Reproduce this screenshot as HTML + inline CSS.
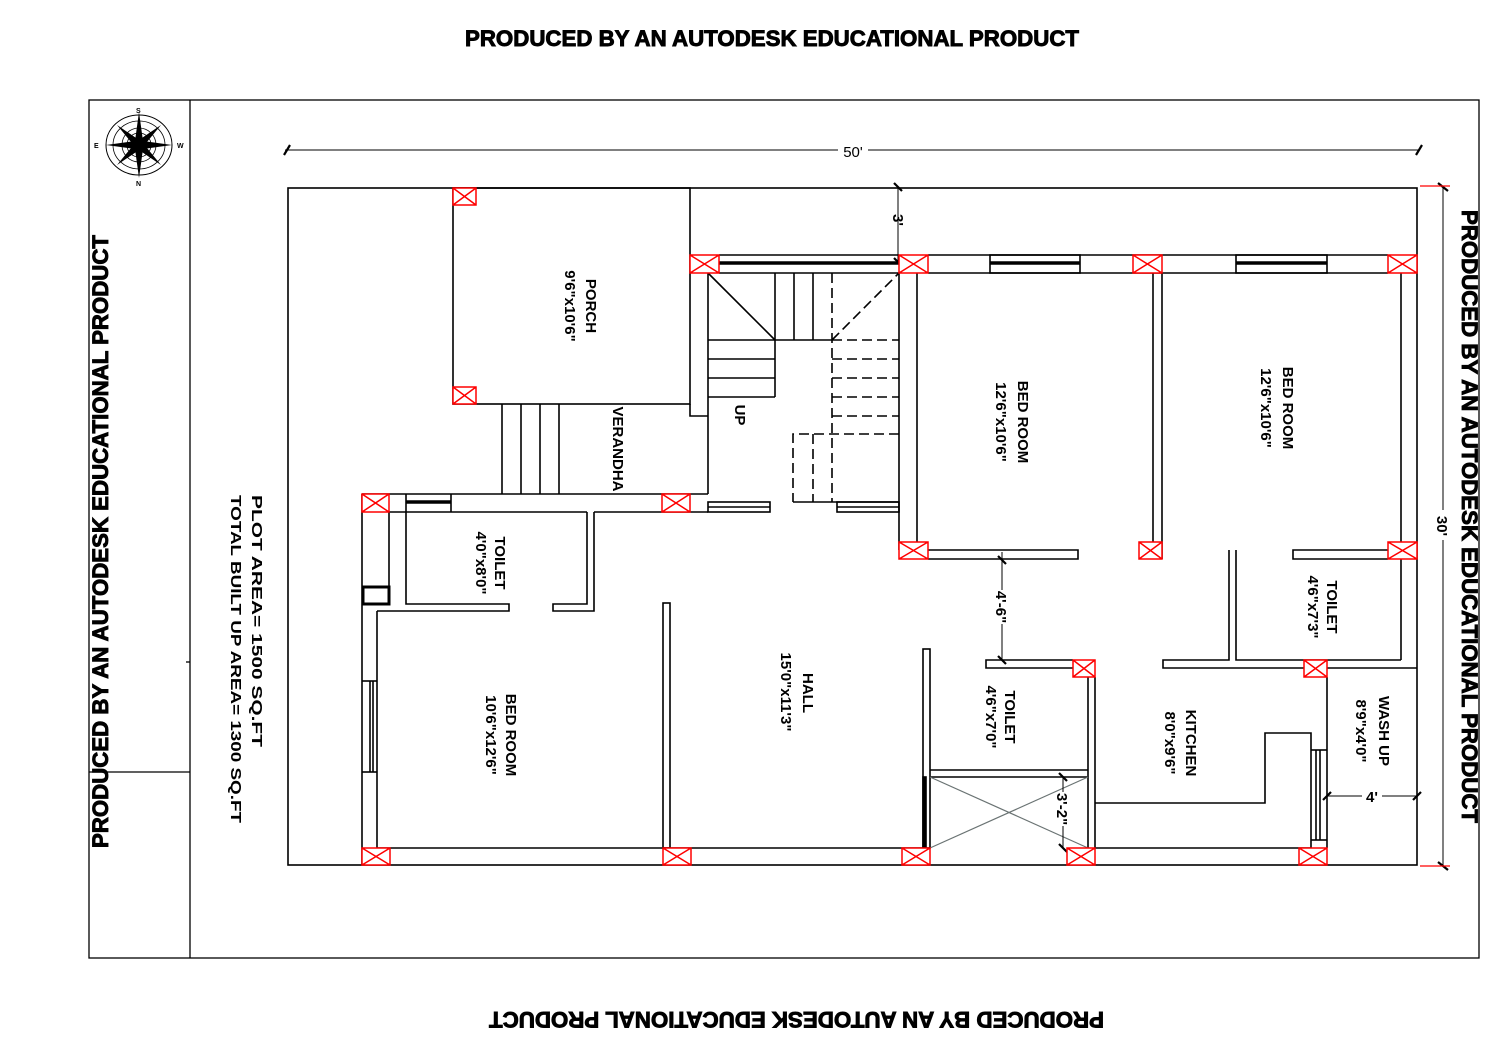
<!DOCTYPE html>
<html><head><meta charset="utf-8"><style>
html,body{margin:0;padding:0;background:#fff;}
svg{display:block;}
text{font-family:"Liberation Sans",Arial,sans-serif;fill:#000;}
.hdr{font-size:22px;font-weight:bold;stroke:#000;stroke-width:0.9;}
.lbl{font-size:15px;font-weight:bold;}
.dim{font-size:15px;}
</style></head><body>
<svg width="1500" height="1060" viewBox="0 0 1500 1060" xmlns="http://www.w3.org/2000/svg">
<rect width="1500" height="1060" fill="#fff"/>
<text class="hdr" x="465" y="46" textLength="614" lengthAdjust="spacingAndGlyphs">PRODUCED BY AN AUTODESK EDUCATIONAL PRODUCT</text>
<text class="hdr" transform="translate(1104,1012) rotate(180)" x="0" y="0" textLength="615" lengthAdjust="spacingAndGlyphs">PRODUCED BY AN AUTODESK EDUCATIONAL PRODUCT</text>
<text class="hdr" transform="translate(108,848) rotate(-90)" x="0" y="0" textLength="613" lengthAdjust="spacingAndGlyphs">PRODUCED BY AN AUTODESK EDUCATIONAL PRODUCT</text>
<text class="hdr" transform="translate(1462,210) rotate(90)" x="0" y="0" textLength="613" lengthAdjust="spacingAndGlyphs">PRODUCED BY AN AUTODESK EDUCATIONAL PRODUCT</text>

<g stroke="#000" stroke-width="1.3" fill="none">
<rect x="89" y="100" width="1390" height="858"/>
<line x1="190" y1="100" x2="190" y2="958"/>
<line x1="89" y1="772" x2="190" y2="772"/>
<line x1="186" y1="662" x2="190" y2="662"/>
<g transform="translate(139,145)">
<ellipse rx="33" ry="30" stroke-width="1"/>
<ellipse rx="26" ry="24" stroke-width="0.8"/>
<circle r="17" stroke-width="0.8"/>
<circle r="12" stroke-width="0.8"/>
<path d="M0,-33 L4,-4 L33,0 L4,4 L0,33 L-4,4 L-33,0 L-4,-4Z" fill="#000" stroke="none"/>
<path d="M-22,-20 L3,-3 L22,20 L-3,3Z M22,-20 L3,3 L-22,20 L-3,-3Z" fill="#000" stroke="none"/>
</g>
</g>
<text x="136" y="113" font-size="7" font-weight="bold">S</text>
<text x="136" y="186" font-size="7" font-weight="bold">N</text>
<text x="94" y="148" font-size="7" font-weight="bold">E</text>
<text x="177" y="148" font-size="7" font-weight="bold">W</text>

<text class="lbl" transform="translate(252,495) rotate(90)" textLength="252" lengthAdjust="spacingAndGlyphs">PLOT AREA=  1500 SQ.FT</text>
<text class="lbl" transform="translate(231,495) rotate(90)" textLength="328" lengthAdjust="spacingAndGlyphs">TOTAL BUILT UP AREA=  1300 SQ.FT</text>

<g stroke="#000" stroke-width="1.6" fill="none">
<rect x="288" y="188" width="1129" height="677"/>
<rect x="453" y="188" width="237" height="216"/>
<line x1="719" y1="255" x2="899" y2="255"/>
<line x1="719" y1="273" x2="899" y2="273"/>
<line x1="719" y1="263" x2="899" y2="263" stroke-width="3.5"/>
<polyline points="690,404 690,416 708,416"/>
<line x1="708" y1="273" x2="708" y2="494"/>
<line x1="708" y1="273" x2="775" y2="340"/>
<line x1="775" y1="273" x2="775" y2="397"/>
<line x1="794" y1="273" x2="794" y2="340"/>
<line x1="813" y1="273" x2="813" y2="340"/>
<line x1="708" y1="340" x2="832" y2="340"/>
<line x1="708" y1="359" x2="775" y2="359"/>
<line x1="708" y1="378" x2="775" y2="378"/>
<line x1="708" y1="397" x2="775" y2="397"/>
<g stroke-dasharray="10,5">
<line x1="832" y1="273" x2="832" y2="502"/>
<line x1="832" y1="340" x2="899" y2="273"/>
<line x1="832" y1="340" x2="899" y2="340"/>
<line x1="832" y1="359" x2="899" y2="359"/>
<line x1="832" y1="378" x2="899" y2="378"/>
<line x1="832" y1="397" x2="899" y2="397"/>
<line x1="832" y1="416" x2="899" y2="416"/>
<polyline points="899,434 793,434 793,502"/>
<line x1="813" y1="434" x2="813" y2="502"/>
</g>
<line x1="793" y1="502" x2="899" y2="502"/>
<line x1="502" y1="404" x2="502" y2="494"/>
<line x1="521" y1="404" x2="521" y2="494"/>
<line x1="540" y1="404" x2="540" y2="494"/>
<line x1="559" y1="404" x2="559" y2="494"/>
<line x1="362" y1="494" x2="708" y2="494"/>
<line x1="389" y1="512" x2="587" y2="512"/>
<line x1="594" y1="512" x2="708" y2="512"/>
<line x1="406" y1="494" x2="406" y2="512"/>
<line x1="451" y1="494" x2="451" y2="512"/>
<line x1="406" y1="502" x2="451" y2="502" stroke-width="3.5"/>
<rect x="708" y="502" width="62" height="10"/>
<line x1="708" y1="507" x2="770" y2="507"/>
<rect x="837" y="502" width="62" height="10"/>
<line x1="837" y1="507" x2="899" y2="507"/>
<line x1="362" y1="494" x2="362" y2="865"/>
<line x1="389" y1="512" x2="389" y2="587"/>
<rect x="363" y="587" width="26" height="17" stroke-width="3"/>
<line x1="377" y1="611" x2="377" y2="848"/>
<polyline points="377,611 509,611 509,604 406,604 406,512"/>
<polyline points="587,512 587,604 553,604 553,611 594,611 594,512"/>
<line x1="362" y1="681" x2="377" y2="681"/>
<line x1="362" y1="772" x2="377" y2="772"/>
<line x1="370" y1="681" x2="370" y2="772"/>
<line x1="373" y1="681" x2="373" y2="772"/>
<rect x="663" y="603" width="7" height="245"/>
<line x1="377" y1="848" x2="923" y2="848"/>
<line x1="1095" y1="848" x2="1311" y2="848"/>
<line x1="899" y1="273" x2="899" y2="550"/>
<line x1="917" y1="273" x2="917" y2="550"/>
<polyline points="917,550 1078,550 1078,559 928,559"/>
<line x1="928" y1="255" x2="1388" y2="255"/>
<line x1="928" y1="273" x2="1388" y2="273"/>
<rect x="990" y="255" width="90" height="18"/>
<line x1="990" y1="263" x2="1080" y2="263" stroke-width="3.5"/>
<rect x="1236" y="255" width="91" height="18"/>
<line x1="1236" y1="263" x2="1327" y2="263" stroke-width="3.5"/>
<line x1="1153" y1="273" x2="1153" y2="559"/>
<line x1="1162" y1="273" x2="1162" y2="559"/>
<polyline points="1388,550 1293,550 1293,559 1388,559"/>
<line x1="1401" y1="273" x2="1401" y2="660"/>
<polyline points="1229,550 1229,660 1163,660 1163,668 1304,668"/>
<polyline points="1236,550 1236,660 1401,660"/>
<line x1="1327" y1="668" x2="1417" y2="668"/>
<rect x="923" y="649" width="7" height="199"/>
<polyline points="1073,660 986,660 986,668 1073,668"/>
<line x1="1088" y1="677" x2="1088" y2="848"/>
<line x1="1095" y1="677" x2="1095" y2="848"/>
<polyline points="930,770 1088,770"/>
<polyline points="930,777 1088,777"/>
<rect x="923" y="777" width="3" height="71" fill="#000"/>
<g stroke="#6a7373" stroke-width="1.2">
<line x1="930" y1="777" x2="1088" y2="848"/>
<line x1="930" y1="848" x2="1088" y2="777"/>
</g>
<polyline points="1095,803 1265,803 1265,733 1311,733 1311,848"/>
<line x1="1327" y1="677" x2="1327" y2="848"/>
<line x1="1311" y1="750" x2="1327" y2="750"/>
<line x1="1311" y1="840" x2="1327" y2="840"/>
<line x1="1316" y1="750" x2="1316" y2="840"/>
<line x1="1320" y1="750" x2="1320" y2="840"/>
<line x1="285" y1="150" x2="1420" y2="150" stroke-width="1"/>
<line x1="1443" y1="186" x2="1443" y2="866" stroke-width="1"/>
<line x1="898" y1="187" x2="898" y2="262" stroke-width="1"/>
<line x1="1002" y1="552" x2="1002" y2="660" stroke-width="1"/>
<line x1="1063" y1="777" x2="1063" y2="848" stroke-width="1"/>
<line x1="1327" y1="796" x2="1417" y2="796" stroke-width="1"/>
<g stroke-width="2.2">
<line x1="284" y1="155" x2="290" y2="145"/>
<line x1="1416" y1="155" x2="1422" y2="145"/>
<line x1="1438" y1="183" x2="1448" y2="191"/>
<line x1="1438" y1="862" x2="1448" y2="870"/>
<line x1="894" y1="183" x2="902" y2="191"/>
<line x1="894" y1="258" x2="902" y2="266"/>
<line x1="998" y1="556" x2="1006" y2="564" />
<line x1="998" y1="656" x2="1006" y2="664"/>
<line x1="1059" y1="773" x2="1067" y2="781"/>
<line x1="1059" y1="844" x2="1067" y2="852"/>
<line x1="1323" y1="800" x2="1331" y2="792"/>
<line x1="1413" y1="800" x2="1421" y2="792"/>
</g>
</g>
<g stroke="#f00" stroke-width="1.2">
<line x1="1420" y1="186" x2="1450" y2="186"/>
<line x1="1420" y1="866" x2="1450" y2="866"/>
</g>
<rect x="838" y="142" width="30" height="16" fill="#fff"/>
<text class="dim" x="853" y="157" text-anchor="middle">50'</text>
<rect x="1436" y="510" width="14" height="30" fill="#fff"/>
<text class="dim" transform="translate(1437,526) rotate(90)" text-anchor="middle" font-weight="bold">30'</text>
<text class="dim" transform="translate(893,220) rotate(90)" text-anchor="middle" font-weight="bold">3'</text>
<rect x="995" y="590" width="14" height="34" fill="#fff"/>
<text class="dim" transform="translate(996,607) rotate(90)" text-anchor="middle" font-weight="bold">4'-6"</text>
<rect x="1056" y="792" width="14" height="34" fill="#fff"/>
<text class="dim" transform="translate(1057,809) rotate(90)" text-anchor="middle" font-weight="bold">3'-2"</text>
<rect x="1362" y="788" width="20" height="16" fill="#fff"/>
<text class="dim" x="1372" y="802" text-anchor="middle" font-weight="bold">4'</text>

<g>
<text class="lbl" transform="translate(586,306) rotate(90)" text-anchor="middle">PORCH</text>
<text class="lbl" transform="translate(565,306) rotate(90)" text-anchor="middle">9'6"x10'6"</text>
<text class="lbl" transform="translate(613,449) rotate(90)" text-anchor="middle">VERANDHA</text>
<text class="lbl" transform="translate(735,415) rotate(90)" text-anchor="middle">UP</text>
<text class="lbl" transform="translate(1018,422) rotate(90)" text-anchor="middle">BED ROOM</text>
<text class="lbl" transform="translate(996,422) rotate(90)" text-anchor="middle">12'6"x10'6"</text>
<text class="lbl" transform="translate(1283,408) rotate(90)" text-anchor="middle">BED ROOM</text>
<text class="lbl" transform="translate(1261,408) rotate(90)" text-anchor="middle">12'6"x10'6"</text>
<text class="lbl" transform="translate(495,563) rotate(90)" text-anchor="middle">TOILET</text>
<text class="lbl" transform="translate(476,563) rotate(90)" text-anchor="middle">4'0"x8'0"</text>
<text class="lbl" transform="translate(506,735) rotate(90)" text-anchor="middle">BED ROOM</text>
<text class="lbl" transform="translate(486,735) rotate(90)" text-anchor="middle">10'6"x12'6"</text>
<text class="lbl" transform="translate(803,693) rotate(90)" text-anchor="middle">HALL</text>
<text class="lbl" transform="translate(781,692) rotate(90)" text-anchor="middle">15'0"x11'3"</text>
<text class="lbl" transform="translate(1005,717) rotate(90)" text-anchor="middle">TOILET</text>
<text class="lbl" transform="translate(986,717) rotate(90)" text-anchor="middle">4'6"x7'0"</text>
<text class="lbl" transform="translate(1186,743) rotate(90)" text-anchor="middle">KITCHEN</text>
<text class="lbl" transform="translate(1165,743) rotate(90)" text-anchor="middle">8'0"x9'6"</text>
<text class="lbl" transform="translate(1327,607) rotate(90)" text-anchor="middle">TOILET</text>
<text class="lbl" transform="translate(1308,607) rotate(90)" text-anchor="middle">4'6"x7'3"</text>
<text class="lbl" transform="translate(1379,731) rotate(90)" text-anchor="middle">WASH UP</text>
<text class="lbl" transform="translate(1356,731) rotate(90)" text-anchor="middle">8'9"x4'0"</text>
</g>

<g stroke="#f00" stroke-width="1.5" fill="#fff">
<path d="M453,188h23v17h-23zM453,188l23,17M476,188l-23,17"/>
<path d="M453,387h23v17h-23zM453,387l23,17M476,387l-23,17"/>
<path d="M690,255h29v18h-29zM690,255l29,18M719,255l-29,18"/>
<path d="M899,255h29v18h-29zM899,255l29,18M928,255l-29,18"/>
<path d="M1133,255h29v18h-29zM1133,255l29,18M1162,255l-29,18"/>
<path d="M1388,255h29v18h-29zM1388,255l29,18M1417,255l-29,18"/>
<path d="M362,494h27v18h-27zM362,494l27,18M389,494l-27,18"/>
<path d="M662,494h28v18h-28zM662,494l28,18M690,494l-28,18"/>
<path d="M899,542h29v17h-29zM899,542l29,17M928,542l-29,17"/>
<path d="M1139,542h23v17h-23zM1139,542l23,17M1162,542l-23,17"/>
<path d="M1388,542h29v17h-29zM1388,542l29,17M1417,542l-29,17"/>
<path d="M1073,660h22v17h-22zM1073,660l22,17M1095,660l-22,17"/>
<path d="M1304,660h23v17h-23zM1304,660l23,17M1327,660l-23,17"/>
<path d="M362,848h28v17h-28zM362,848l28,17M390,848l-28,17"/>
<path d="M663,848h28v17h-28zM663,848l28,17M691,848l-28,17"/>
<path d="M902,848h28v17h-28zM902,848l28,17M930,848l-28,17"/>
<path d="M1067,848h28v17h-28zM1067,848l28,17M1095,848l-28,17"/>
<path d="M1299,848h28v17h-28zM1299,848l28,17M1327,848l-28,17"/>
</g>
</svg>
</body></html>
